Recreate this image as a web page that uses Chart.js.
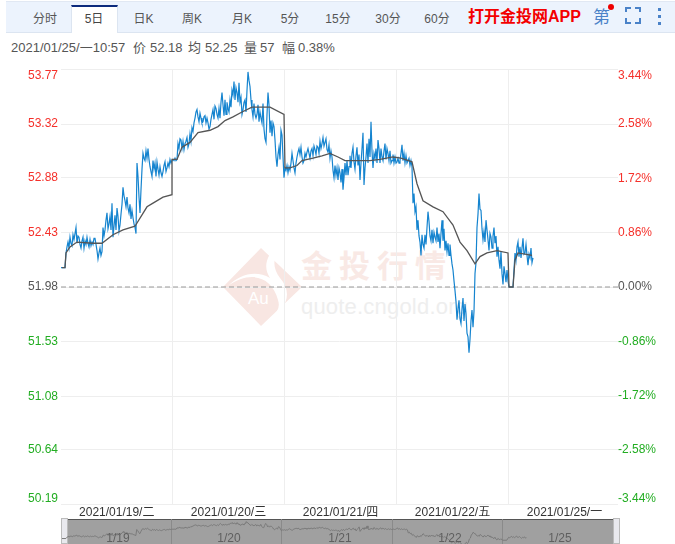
<!DOCTYPE html>
<html><head><meta charset="utf-8">
<script src="https://cdn.jsdelivr.net/npm/chart.js@4"></script>
<style>
html,body{margin:0;padding:0;background:#fff;overflow:hidden;width:675px;height:544px}
body{font-family:"Liberation Sans","Noto Sans CJK SC",sans-serif;position:relative}
.a{position:absolute;white-space:nowrap}
#band{left:6px;top:1px;width:669px;height:30px;background:#ecf3fd;border-top:1px solid #e1e8f3;border-bottom:1px solid #dce5f1}
#active{left:70.5px;top:5px;width:47px;height:28px;background:#fff;border-top:2px solid #0c2a7d;border-left:1px solid #dce5f1;border-right:1px solid #dce5f1;box-sizing:border-box}
.tab{top:11px;font-size:12px;line-height:16px;color:#555;transform:translateX(-50%)}
.info{top:40px;font-size:13px;line-height:15px;color:#555}
#cv{left:0;top:60px}
#mini{left:61px;top:519px}
.mlab{top:531px;font-size:12px;line-height:14px;color:#5f5f5f;transform:translateX(-50%)}
</style></head><body>
<svg class="a" style="left:220px;top:240px" width="250" height="90">
  <polygon points="41,8 82,47 41,86 3,47" fill="#f8e6e2"/>
  <path d="M8,46 C30,30 52,36 58,60 C62,72 50,78 44,84 C66,70 74,54 60,38 C54,30 52,20 58,14 L50,14 C44,24 46,32 50,38 C36,30 20,34 8,46Z" fill="#fff"/>
  <text x="28" y="64" font-size="17" fill="#fff" font-family="Liberation Sans">Au</text>
  <text x="81" y="37" font-size="31" font-weight="bold" fill="#f9e9e5" letter-spacing="7" font-family="Noto Sans CJK SC">金投行情</text>
  <text x="81" y="74" font-size="22" fill="#eeeeee" letter-spacing="0.2" font-family="Liberation Sans">quote.cngold.org</text>
</svg>
<canvas id="cv" class="a" width="675" height="484" style="width:675px;height:484px"></canvas>
<div id="band" class="a"></div>
<div id="active" class="a"></div>
<span class="a tab" style="left:45px">分时</span>
<span class="a tab" style="left:94px;color:#444">5日</span>
<span class="a tab" style="left:143.5px">日K</span>
<span class="a tab" style="left:192px">周K</span>
<span class="a tab" style="left:242px">月K</span>
<span class="a tab" style="left:290px">5分</span>
<span class="a tab" style="left:338px">15分</span>
<span class="a tab" style="left:388px">30分</span>
<span class="a tab" style="left:437px">60分</span>
<span class="a" style="left:468px;top:7px;font-size:16px;line-height:20px;font-weight:bold;color:#f40000">打开金投网APP</span>
<span class="a" style="left:593px;top:7px;font-size:17px;line-height:22px;color:#4a82c8">第</span>
<div class="a" style="left:608px;top:4px;width:6px;height:6px;border-radius:3px;background:#ee0000"></div>
<svg class="a" style="left:624px;top:7px" width="50" height="20" fill="none" stroke="#4a82c8" stroke-width="2">
  <path d="M2,5V1H7M11,1H16V5M16,11V16H11M7,16H2V11"/>
  <rect x="34" y="1" width="3" height="3" fill="#4a82c8" stroke="none"/><rect x="34" y="8" width="3" height="3" fill="#4a82c8" stroke="none"/><rect x="34" y="15" width="3" height="3" fill="#4a82c8" stroke="none"/>
</svg>
<span class="a info" style="left:11px">2021/01/25/一10:57</span>
<span class="a info" style="left:133px">价</span><span class="a info" style="left:150px">52.18</span>
<span class="a info" style="left:188px">均</span><span class="a info" style="left:205px">52.25</span>
<span class="a info" style="left:244px">量</span><span class="a info" style="left:260px">57</span>
<span class="a info" style="left:282px">幅</span><span class="a info" style="left:298px">0.38%</span>
<div class="a" style="left:68px;top:519px;width:545px;height:25px;background:#a0a0a0;border-top:1px solid #555;box-sizing:border-box"></div>
<div class="a" style="left:61px;top:518px;width:7px;height:26px;background:#e9e9ee;border:1px solid #bbb;box-sizing:border-box"></div>
<div class="a" style="left:613px;top:518px;width:7px;height:26px;background:#e9e9ee;border:1px solid #bbb;box-sizing:border-box"></div>
<canvas id="mini" class="a" width="559" height="25" style="width:559px;height:25px"></canvas>
<span class="a mlab" style="left:118px">1/19</span>
<span class="a mlab" style="left:229px">1/20</span>
<span class="a mlab" style="left:340px">1/21</span>
<span class="a mlab" style="left:450px">1/22</span>
<span class="a mlab" style="left:560px">1/25</span>
<script>
const dayLabels = ['2021/01/19/二','2021/01/20/三','2021/01/21/四','2021/01/22/五','2021/01/25/一'];
const dayCentres = [55.75,167.5,279.5,391.5,503.5];
const dayEdges = [111.5,223.5,335.5,447.5];
const miniEdges = [111.5,223.5,335.5,447.5];
const priceTicks = [53.77,53.32,52.88,52.43,51.98,51.53,51.08,50.64,50.19];
const percentTicks = [3.44,2.58,1.72,0.86,0,-0.86,-1.72,-2.58,-3.44];
const prevClose = 51.98;
const slotCount = 557;
const miniSlotCount = 559;

const priceSlots = [
0,4,5,7,9,11,12,15,16,18,20,22,23,26,28,31,34,36,37,39,41,42,44,46,48,51,52,56,59,62,64,66,68,71,73,75,76,77,79,82,84,87,89,91,92,95,96,98,101,103,106,111,
112,116,117,120,121,124,126,128,131,133,135,137,140,142,144,147,149,152,155,157,161,163,164,167,169,173,176,178,180,182,184,187,189,191,193,195,197,200,202,205,207,210,212,214,216,218,220,221,223,224,229,
231,233,236,238,241,243,246,248,251,254,257,262,264,267,271,272,276,277,279,282,284,287,291,293,296,299,302,303,306,310,312,314,317,321,324,327,331,336,
339,341,342,347,351,352,355,356,357,360,361,364,367,371,374,376,378,381,384,387,390,392,394,396,398,400,402,405,407,408,411,412,414,415,416,418,420,422,425,427,430,433,436,437,441,444,448,
452,454,456,458,462,464,467,470,471,472];
const prices = [
52.14,52.14,52.26,52.35,52.39,52.32,52.41,52.47,52.34,52.39,52.30,52.39,52.30,52.39,52.31,52.35,52.38,52.28,52.21,52.30,52.27,52.47,52.45,52.59,52.50,52.67,52.39,52.63,52.49,52.80,52.69,52.72,52.59,52.61,52.50,52.42,53.00,52.89,52.59,53.08,53.02,53.12,52.97,52.89,53.02,52.89,53.01,52.90,52.89,52.98,52.96,53.02,
53.03,53.03,53.16,53.19,53.12,53.16,53.21,53.16,53.29,53.33,53.42,53.38,53.37,53.34,53.39,53.33,53.30,53.44,53.45,53.37,53.58,53.39,53.52,53.45,53.52,53.67,53.58,53.66,53.54,53.44,53.52,53.75,53.63,53.44,53.49,53.37,53.48,53.37,53.49,53.17,53.58,53.35,53.33,53.19,52.97,53.13,53.27,53.23,52.88,52.96,52.94,
53.08,52.96,53.05,53.12,53.05,53.02,53.09,53.08,53.12,53.11,53.13,53.21,53.17,53.09,53.05,52.94,52.96,52.86,52.92,52.78,53.00,52.90,53.08,53.01,53.13,52.86,53.25,52.82,53.16,53.34,52.96,53.04,53.19,53.05,53.16,53.08,53.02,53.01,
53.02,53.15,53.02,53.02,52.97,52.67,52.64,52.45,52.53,52.24,52.41,52.41,52.60,52.45,52.39,52.47,52.42,52.53,52.28,52.34,52.24,52.12,51.95,51.71,51.87,51.68,51.89,51.76,51.57,51.44,51.79,51.65,52.09,52.18,52.47,52.75,52.61,52.37,52.53,52.37,52.39,52.47,52.23,52.31,52.09,52.09,51.98,
51.98,52.26,52.31,52.23,52.38,52.26,52.16,52.30,52.18,52.22];

const finerSlots = [
6,8,10,13,14,17,19,21,24,25,27,29,30,32,33,35,38,40,43,45,47,49,50,53,54,55,57,58,60,61,63,65,67,69,70,72,74,78,80,81,83,85,86,88,90,93,94,97,99,100,102,104,105,107,108,109,110,
113,114,115,118,119,122,123,125,127,129,130,132,134,136,138,139,141,143,145,146,148,150,151,153,154,156,158,159,160,162,165,166,168,170,171,172,174,175,177,179,181,183,185,186,188,190,192,194,196,198,199,201,203,204,206,208,209,211,213,215,217,219,222,
225,226,227,228,230,232,234,235,237,239,240,242,244,245,247,249,250,252,253,255,256,258,259,260,261,263,265,266,268,269,270,273,274,275,278,280,281,283,285,286,288,289,290,292,294,295,297,298,300,301,304,305,307,308,309,311,313,315,316,318,319,320,322,323,325,326,328,329,330,332,333,334,335,337,338,
340,343,344,345,346,348,349,350,353,354,358,359,362,363,365,366,368,369,370,372,373,375,377,379,380,382,383,385,386,388,389,391,393,395,397,399,401,403,404,406,409,410,413,417,419,421,423,424,426,428,429,431,432,434,435,438,439,440,442,443,445,446,447,
455,457,459,460,461,463,465,466,468,469];
const finerPrices = [
52.31,52.30,52.34,52.37,52.42,52.40,52.33,52.36,52.36,52.33,52.34,52.37,52.32,52.33,52.38,52.33,52.26,52.24,52.40,52.53,52.46,52.56,52.45,52.48,52.57,52.45,52.56,52.44,52.58,52.66,52.73,52.64,52.63,52.66,52.54,52.55,52.47,52.72,52.78,52.95,53.04,53.10,53.04,53.03,52.93,52.95,53.00,52.95,52.97,52.92,52.93,53.01,52.93,53.00,52.97,53.03,53.00,
53.02,53.04,53.02,53.12,53.20,53.18,53.11,53.18,53.13,53.24,53.18,53.26,53.37,53.44,53.34,53.41,53.33,53.38,53.33,53.37,53.28,53.36,53.40,53.36,53.47,53.40,53.45,53.37,53.50,53.48,53.40,53.50,53.42,53.46,53.60,53.56,53.52,53.62,53.50,53.50,53.40,53.50,53.42,53.60,53.68,53.52,53.38,53.40,53.40,53.34,53.42,53.33,53.28,53.20,53.40,53.48,53.25,53.22,53.30,53.05,53.07,53.03,53.05,
52.94,52.98,52.92,52.97,53.00,53.02,52.92,53.00,53.09,53.07,53.13,53.00,53.08,53.05,53.12,53.04,53.10,53.06,53.14,53.07,53.14,53.08,53.18,53.12,53.16,53.14,53.20,53.11,53.15,53.04,53.10,52.88,52.98,52.90,52.96,52.84,52.95,52.88,52.90,53.02,52.97,53.06,52.96,53.13,52.95,53.06,52.98,53.07,53.00,53.12,52.96,53.05,53.00,53.20,53.05,53.10,53.08,53.12,53.00,53.12,53.00,53.12,53.02,53.10,53.03,53.12,53.02,53.10,53.00,53.07,53.00,53.05,53.00,53.04,53.00,
53.08,53.08,53.00,53.06,53.00,53.04,52.98,53.02,52.75,52.60,52.40,52.35,52.33,52.30,52.33,52.47,52.52,52.40,52.36,52.34,52.43,52.36,52.35,52.30,52.42,52.36,52.46,52.36,52.27,52.24,52.33,52.17,52.03,51.86,51.80,51.72,51.80,51.70,51.84,51.60,51.55,51.70,51.78,52.58,52.62,52.46,52.44,52.35,52.45,52.28,52.42,52.30,52.40,52.34,52.40,52.20,52.13,52.27,52.00,52.15,52.02,52.12,52.03,
52.20,52.35,52.31,52.22,52.30,52.25,52.33,52.24,52.25,52.22];

const avgSlots = [1,4,5,9,16,32,41,52,62,74,86,92,102,111,111,116,121,129,137,149,157,164,172,181,191,201,209,223,224,229,236,241,252,261,269,277,284,294,309,319,332,340,351,356,362,372,382,392,399,406,414,419,426,436,447,448,452,454,457,471];
const avgPrices = [52.14,52.14,52.26,52.31,52.35,52.34,52.34,52.41,52.45,52.48,52.64,52.67,52.72,52.74,53.03,53.03,53.13,53.17,53.25,53.27,53.30,53.35,53.38,53.42,53.46,53.46,53.46,53.40,52.96,52.96,52.98,53.02,53.04,53.06,53.08,53.05,53.02,53.02,53.02,53.03,53.05,53.04,53.01,52.83,52.69,52.64,52.60,52.49,52.35,52.28,52.17,52.23,52.26,52.28,52.26,51.98,51.98,52.20,52.26,52.24];

const RED='#f5302a', GREEN='#22ad22', GREY='#555';
const FONT='"Liberation Sans","Noto Sans CJK SC",sans-serif';
const pricePts = priceSlots.map((x,i)=>({x,y:prices[i]}))
  .concat(finerSlots.map((x,i)=>({x,y:finerPrices[i]})))
  .sort((a,b)=>a.x-b.x);
const avgPts = avgSlots.map((x,i)=>({x,y:avgPrices[i]}));
const noPad = s => { s.paddingTop=0; s.paddingBottom=0; s.paddingLeft=0; s.paddingRight=0; };

new Chart(document.getElementById('cv'),{
  type:'line',
  data:{datasets:[
    {label:'均价',data:avgPts,borderColor:'#555',borderWidth:1.3,pointRadius:0,tension:0,yAxisID:'y',order:1},
    {label:'价格',data:pricePts,borderColor:'#1584cf',borderWidth:1.2,pointRadius:0,tension:0,yAxisID:'y',order:2},
    {label:'昨收',data:[{x:0,y:prevClose},{x:slotCount,y:prevClose}],borderColor:'#999',borderWidth:1,borderDash:[5,3],pointRadius:0,yAxisID:'y',order:3}
  ]},
  options:{
    responsive:false,animation:false,
    layout:{padding:{top:9.5,left:0,right:0,bottom:0}},
    plugins:{legend:{display:false},tooltip:{enabled:false}},
    scales:{
      x:{type:'linear',min:0,max:slotCount,
        afterBuildTicks:s=>{s.ticks=[...dayCentres,...dayEdges].sort((a,b)=>a-b).map(value=>({value}));},
        afterFit:s=>{s.height=39.5;noPad(s);},
        border:{display:false},
        grid:{drawTicks:false,color:c=>dayEdges.includes(c.tick&&c.tick.value)?'#eeeeee':'rgba(0,0,0,0)'},
        ticks:{autoSkip:false,maxRotation:0,padding:1,color:'#333',font:{family:FONT,size:12},
          callback:v=>{const i=dayCentres.indexOf(v);return i<0?'':dayLabels[i];}}
      },
      y:{position:'left',min:50.19,max:53.77,
        afterBuildTicks:s=>{s.ticks=priceTicks.map(value=>({value}));},
        afterFit:s=>{s.width=61;noPad(s);},
        border:{display:false},
        grid:{drawTicks:false,color:'#eeeeee'},
        ticks:{autoSkip:false,padding:3,font:{family:FONT,size:12,lineHeight:1},
          color:c=>{const v=c.tick.value;return v>prevClose+0.001?RED:v<prevClose-0.001?GREEN:GREY;},
          callback:(v,i)=>{const t=v.toFixed(2);return i===0?['',t]:i===priceTicks.length-1?[t,'']:t;}}
      },
      y2:{position:'right',min:-3.44,max:3.44,
        afterBuildTicks:s=>{s.ticks=percentTicks.map(value=>({value}));},
        afterFit:s=>{s.width=57;noPad(s);},
        border:{display:false},
        grid:{display:false,drawTicks:false},
        ticks:{autoSkip:false,padding:0,font:{family:FONT,size:12,lineHeight:1},
          color:c=>{const v=c.tick.value;return v>0.001?RED:v<-0.001?GREEN:GREY;},
          callback:(v,i)=>{const t=v.toFixed(2)+'%';return i===0?['',t]:i===percentTicks.length-1?[t,'']:t;}}
      }
    }
  }
});

new Chart(document.getElementById('mini'),{
  type:'line',
  data:{datasets:[{label:'缩略',data:pricePts,borderColor:'#7a7a7a',borderWidth:1,pointRadius:0,tension:0}]},
  options:{
    responsive:false,animation:false,
    layout:{padding:{left:1,right:8,top:0,bottom:0}},
    plugins:{legend:{display:false},tooltip:{enabled:false}},
    scales:{
      x:{type:'linear',min:0,max:miniSlotCount,
        afterBuildTicks:s=>{s.ticks=miniEdges.map(value=>({value}));},
        border:{display:false},grid:{drawTicks:false,color:'#8a8a8a'},ticks:{display:false}},
      y:{display:false,min:51.62,max:54.0}
    }
  }
});
</script>
</body></html>
